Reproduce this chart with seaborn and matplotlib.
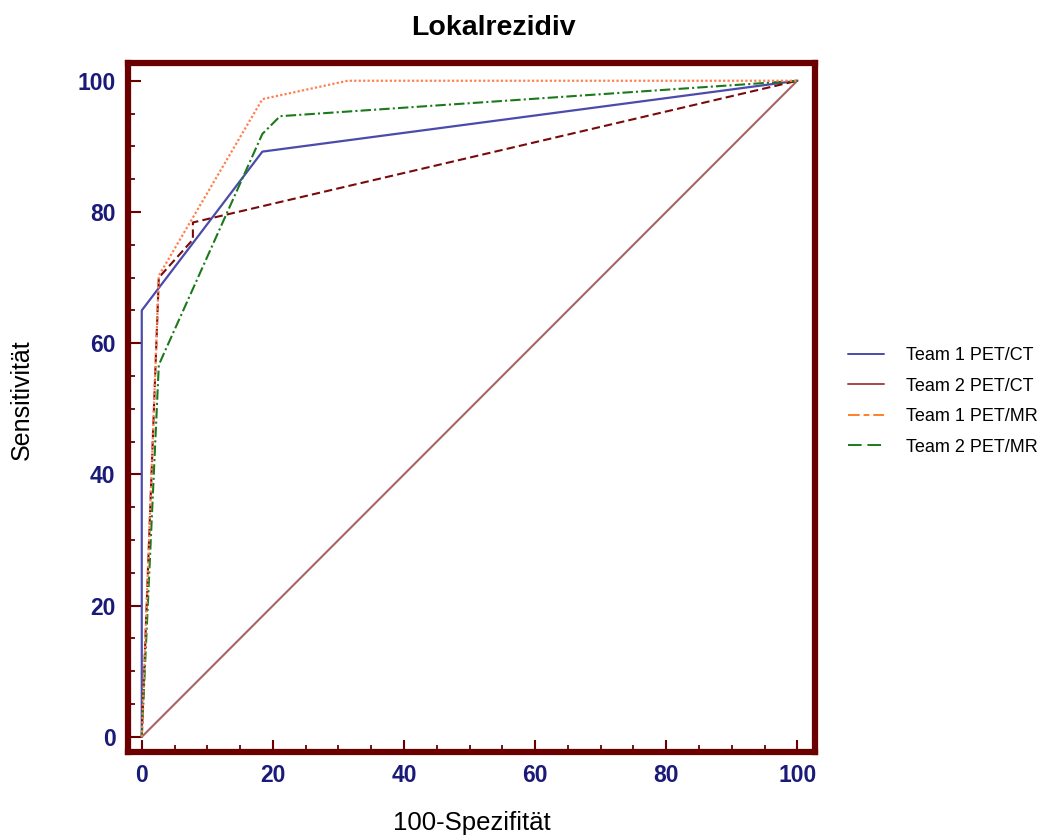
import pandas as pd
import matplotlib.pyplot as plt
from matplotlib.lines import Line2D
from matplotlib.ticker import MultipleLocator
import seaborn as sns

# ROC points (100-Spezifität, Sensitivität)
t1_ct_x = [0, 0, 18.4, 100]
t1_ct_y = [0, 65.0, 89.2, 100]

t2_ct_x = [0, 2.6, 7.8, 7.8, 100]
t2_ct_y = [0, 70.0, 75.8, 78.4, 100]

t1_mr_x = [0, 2.6, 18.4, 31.4, 100]
t1_mr_y = [0, 70.3, 97.2, 100, 100]

t2_mr_x = [0, 2.6, 18.4, 21.1, 100]
t2_mr_y = [0, 56.7, 91.9, 94.6, 100]

diag_x = [0, 100]
diag_y = [0, 100]

labels = ['Team 1 PET/CT', 'Team 2 PET/CT', 'Team 1 PET/MR', 'Team 2 PET/MR']
ticks = [0, 20, 40, 60, 80, 100]

frames = []
for name, xs, ys in [('Team 1 PET/CT', t1_ct_x, t1_ct_y),
                     ('Team 2 PET/CT', t2_ct_x, t2_ct_y),
                     ('Team 1 PET/MR', t1_mr_x, t1_mr_y),
                     ('Team 2 PET/MR', t2_mr_x, t2_mr_y),
                     ('diag', diag_x, diag_y)]:
    frames.append(pd.DataFrame({'x': xs, 'y': ys, 'kurve': name}))
df = pd.concat(frames, ignore_index=True)

sns.set_style('white')
plt.rcParams['font.family'] = ['Liberation Sans', 'DejaVu Sans']
plt.rcParams['text.color'] = 'black'
plt.rcParams['axes.labelcolor'] = 'black'

fig = plt.figure(figsize=(10.64, 8.36), dpi=100)
ax = fig.add_axes([0.1203, 0.1005, 0.6457, 0.8241])

frame_col = '#6b0000'
styles = {
    'diag': dict(color='#a86464', linestyle='-', lw=1.5),
    'Team 1 PET/CT': dict(color='#4b4bab', linestyle='-', lw=1.6),
    'Team 2 PET/CT': dict(color='#7a0a0a', linestyle=(0, (4, 2)), lw=1.5),
    'Team 1 PET/MR': dict(color='#ff7f50', linestyle=(0, (1, 1)), lw=1.6),
    'Team 2 PET/MR': dict(color='#1a7a1a', linestyle=(0, (5, 1.5, 1, 1.5)), lw=1.5),
}
for name in ['diag', 'Team 1 PET/CT', 'Team 2 PET/CT', 'Team 2 PET/MR', 'Team 1 PET/MR']:
    st = styles[name]
    sns.lineplot(data=df[df['kurve'] == name], x='x', y='y', sort=False, ax=ax,
                 color=st['color'], linestyle=st['linestyle'], linewidth=st['lw'],
                 legend=False, estimator=None)

ax.set_xlim(-2.1, 102.7)
ax.set_ylim(-2.3, 102.7)
ax.set_xticks(ticks)
ax.set_yticks(ticks)
ax.xaxis.set_minor_locator(MultipleLocator(5))
ax.yaxis.set_minor_locator(MultipleLocator(5))
ax.tick_params(which='major', direction='in', length=9, width=1.5, color=frame_col,
               bottom=True, left=True, pad=9)
ax.tick_params(which='minor', direction='in', length=5, width=1.3, color=frame_col,
               bottom=True, left=True)
for lab in ax.get_xticklabels() + ax.get_yticklabels():
    lab.set_fontweight('bold')
    lab.set_fontsize(16.5)
    lab.set_color('#1a1a78')

for sp in ax.spines.values():
    sp.set_color(frame_col)
    sp.set_linewidth(4.5)

ax.set_title('Lokalrezidiv', fontsize=20.5, fontweight='bold', pad=20, x=0.532)
ax.set_xlabel('100-Spezifität', fontsize=18.5, labelpad=17)
ax.set_ylabel('Sensitivität', fontsize=18, labelpad=31, y=0.512)
ax.grid(False)

handles = [
    Line2D([], [], color='#4b4bab', lw=1.4, linestyle='-'),
    Line2D([], [], color='#a84848', lw=1.4, linestyle='-'),
    Line2D([], [], color='#ff7f27', lw=1.4, linestyle=(0, (6, 2, 3, 2))),
    Line2D([], [], color='#1a7a1a', lw=1.4, linestyle=(0, (7, 3))),
]
fig.legend(handles, labels, loc='center left', bbox_to_anchor=(0.782, 0.52),
           frameon=False, fontsize=13, handlelength=2.0, labelspacing=0.75,
           handletextpad=1.2)

fig.savefig('out.png', dpi=100)
